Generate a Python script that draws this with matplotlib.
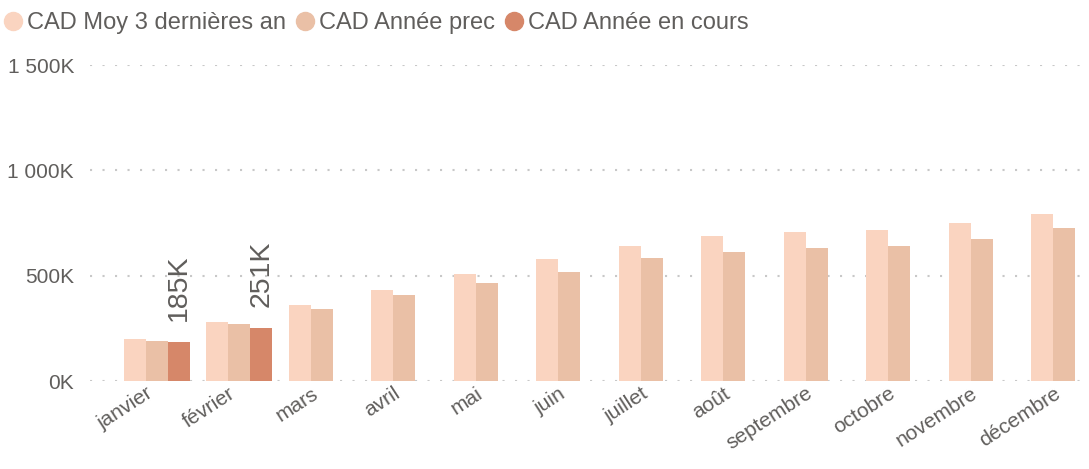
import numpy as np
import matplotlib.pyplot as plt
from matplotlib.lines import Line2D
from matplotlib.transforms import ScaledTranslation

plt.rcParams["font.family"] = ["Liberation Sans", "DejaVu Sans"]

months = ["janvier", "février", "mars", "avril", "mai", "juin", "juillet",
          "août", "septembre", "octobre", "novembre", "décembre"]
# values in thousands (K)
moy_3_ans = [199, 278, 362, 431, 506, 577, 641, 687, 706, 719, 750, 791]
annee_prec = [191, 270, 343, 408, 466, 518, 583, 610, 629, 641, 673, 726]
annee_cours = [185, 251] + [np.nan] * 10

series = [
    ("CAD Moy 3 dernières an", moy_3_ans, "#FAD4C0"),
    ("CAD Année prec", annee_prec, "#EAC0A6"),
    ("CAD Année en cours", annee_cours, "#D68769"),
]
TEXT = "#605E5C"

fig = plt.figure(figsize=(10.89, 4.69), dpi=100)
ax = fig.add_axes([90 / 1089, 1 - 381 / 469, 990 / 1089, 316 / 469])

x = np.arange(len(months))
w = 0.267
for k, (name, vals, color) in enumerate(series):
    ax.bar(x + (k - 1) * w, vals, width=w, color=color, label=name, zorder=2)

# data labels for current year
for xi, v in zip(x, annee_cours):
    if np.isnan(v):
        continue
    ax.annotate(f"{v:.0f}K", (xi + w, v), xytext=(0, 15), textcoords="offset points",
                rotation=90, ha="center", va="bottom", fontsize=20.5, color=TEXT)

ax.set_xlim(-0.81, 11.19)
ax.set_ylim(0, 1500)
yt = [0, 500, 1000, 1500]
ax.set_yticks(yt)
ax.set_yticklabels([f"{v:,.0f}K".replace(",", " ") for v in yt])
ax.yaxis.grid(True, color="#C8C8C8", linestyle=(0, (1, 5)), linewidth=1.5, zorder=0)
ax.set_axisbelow(True)
ax.tick_params(axis="y", length=0, pad=11.5, labelsize=15, labelcolor=TEXT)
ax.tick_params(axis="x", length=0, pad=2, labelsize=15, labelcolor=TEXT)
ax.set_xticks(x)
ax.set_xticklabels(months, rotation=33, ha="right", rotation_mode="anchor")
for lab in ax.get_xticklabels():
    lab.set_transform(lab.get_transform() + ScaledTranslation(-0.11, 0, fig.dpi_scale_trans))
for s in ax.spines.values():
    s.set_visible(False)

handles = [Line2D([], [], marker="o", linestyle="", markersize=13,
                  markerfacecolor=c, markeredgecolor=c) for _, _, c in series]
fig.legend(handles, [n for n, _, _ in series], loc="upper left",
           bbox_to_anchor=(-0.014, 1.005), ncol=3, frameon=False, fontsize=17,
           labelcolor=TEXT, handletextpad=0.0, columnspacing=0.2,
           handlelength=1.2, borderaxespad=0.2)

fig.savefig("out.png", dpi=100)
